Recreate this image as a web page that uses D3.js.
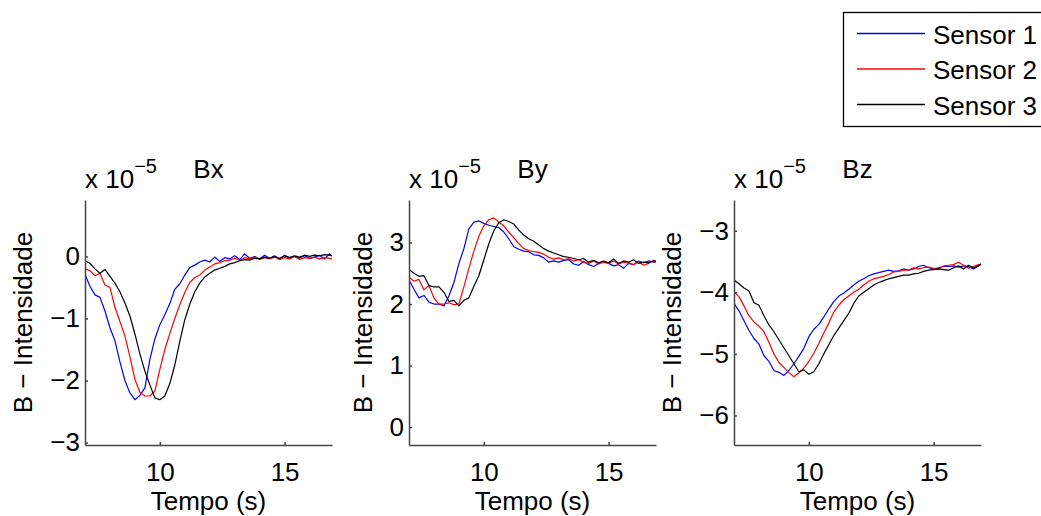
<!DOCTYPE html>
<html>
<head>
<meta charset="utf-8">
<script src="https://cdn.jsdelivr.net/npm/d3@7"></script>
<style>
  body { margin: 0; background: #fff; }
  svg { display: block; }
  text { font-family: "Liberation Sans", Arial, Helvetica, sans-serif; fill: #000; }
</style>
</head>
<body>
<div id="chart"></div>
<script>
// sample times (s)
const time = [7.0, 7.2, 7.4, 7.6, 7.8, 8.0, 8.2, 8.4, 8.6, 8.8,
  9.0, 9.2, 9.4, 9.6, 9.8, 10.0, 10.2, 10.4, 10.6, 10.8,
  11.0, 11.2, 11.4, 11.6, 11.8, 12.0, 12.2, 12.4, 12.6, 12.8,
  13.0, 13.2, 13.4, 13.6, 13.8, 14.0, 14.2, 14.4, 14.6, 14.8,
  15.0, 15.2, 15.4, 15.6, 15.8, 16.0, 16.2, 16.4, 16.6, 16.8, 17.0];

// Bx (x 1e-5)
const bxSensor1 = [-0.29, -0.48, -0.62, -0.66, -0.88, -1.15, -1.36, -1.70, -2.00, -2.20,
  -2.31, -2.24, -2.12, -1.66, -1.33, -1.10, -0.94, -0.76, -0.53, -0.44,
  -0.30, -0.18, -0.14, -0.09, -0.06, -0.09, -0.01, -0.08, -0.02, -0.04,
  0.01, -0.05, 0.04, -0.03, 0.00, -0.04, 0.02, -0.03, 0.01, -0.05,
  0.02, -0.02, 0.00, -0.03, 0.01, -0.03, -0.01, 0.02, -0.04, 0.04, -0.02];
const bxSensor2 = [-0.20, -0.23, -0.31, -0.27, -0.46, -0.50, -0.82, -1.05, -1.28, -1.62,
  -1.98, -2.19, -2.25, -2.25, -2.17, -1.82, -1.50, -1.24, -1.00, -0.78,
  -0.58, -0.42, -0.34, -0.30, -0.22, -0.17, -0.12, -0.10, -0.07, -0.06,
  -0.03, -0.06, -0.02, -0.04, -0.01, -0.05, -0.02, -0.04, -0.01, -0.05,
  -0.02, -0.04, 0.00, -0.05, -0.02, -0.03, -0.01, -0.04, -0.02, -0.03, -0.05];
const bxSensor3 = [-0.07, -0.11, -0.20, -0.27, -0.21, -0.32, -0.43, -0.57, -0.75, -0.96,
  -1.25, -1.57, -1.85, -2.07, -2.28, -2.31, -2.25, -2.05, -1.75, -1.37,
  -1.02, -0.77, -0.57, -0.43, -0.33, -0.27, -0.22, -0.19, -0.16, -0.12,
  -0.10, -0.07, -0.05, -0.06, -0.03, -0.04, -0.01, -0.03, 0.00, -0.03,
  0.01, -0.02, 0.01, -0.01, 0.02, 0.00, 0.02, 0.01, 0.03, 0.02, 0.00];

// By (x 1e-5)
const bySensor1 = [2.39, 2.24, 2.10, 2.14, 2.03, 2.00, 2.00, 1.97, 2.13, 2.35,
  2.66, 2.90, 3.22, 3.33, 3.35, 3.31, 3.28, 3.26, 3.24, 3.17,
  3.06, 2.93, 2.89, 2.86, 2.85, 2.80, 2.79, 2.75, 2.68, 2.70,
  2.68, 2.71, 2.72, 2.65, 2.63, 2.69, 2.64, 2.61, 2.66, 2.69,
  2.66, 2.62, 2.64, 2.58, 2.66, 2.64, 2.70, 2.67, 2.70, 2.68, 2.69];
const bySensor2 = [2.44, 2.37, 2.40, 2.23, 2.30, 2.10, 2.00, 2.00, 2.02, 1.99,
  2.00, 2.28, 2.58, 2.86, 3.10, 3.27, 3.37, 3.40, 3.33, 3.27,
  3.17, 3.08, 2.98, 2.90, 2.87, 2.85, 2.84, 2.81, 2.76, 2.73,
  2.75, 2.72, 2.74, 2.70, 2.72, 2.68, 2.66, 2.70, 2.65, 2.68,
  2.66, 2.70, 2.65, 2.68, 2.67, 2.64, 2.69, 2.63, 2.66, 2.71, 2.68];
const bySensor3 = [2.56, 2.50, 2.45, 2.46, 2.30, 2.28, 2.28, 2.19, 2.04, 2.06,
  1.97, 2.06, 2.10, 2.29, 2.46, 2.72, 2.98, 3.19, 3.32, 3.37,
  3.34, 3.30, 3.20, 3.12, 3.06, 3.02, 2.96, 2.90, 2.86, 2.83,
  2.80, 2.77, 2.76, 2.74, 2.72, 2.74, 2.68, 2.71, 2.67, 2.70,
  2.67, 2.73, 2.66, 2.70, 2.68, 2.72, 2.66, 2.68, 2.67, 2.70, 2.68];

// Bz (x 1e-5)
const bzSensor1 = [-4.18, -4.30, -4.46, -4.62, -4.75, -4.84, -5.03, -5.12, -5.27, -5.30,
  -5.35, -5.27, -5.16, -5.04, -4.91, -4.72, -4.60, -4.52, -4.40, -4.27,
  -4.15, -4.06, -4.01, -3.95, -3.88, -3.82, -3.78, -3.73, -3.70, -3.68,
  -3.66, -3.64, -3.66, -3.65, -3.62, -3.64, -3.62, -3.58, -3.56, -3.60,
  -3.62, -3.60, -3.58, -3.58, -3.57, -3.59, -3.57, -3.58, -3.62, -3.57, -3.52];
const bzSensor2 = [-3.99, -4.07, -4.22, -4.38, -4.48, -4.55, -4.64, -4.81, -5.00, -5.14,
  -5.22, -5.30, -5.37, -5.31, -5.23, -5.12, -4.99, -4.83, -4.66, -4.50,
  -4.32, -4.21, -4.12, -4.06, -4.00, -3.95, -3.88, -3.82, -3.78, -3.76,
  -3.74, -3.71, -3.67, -3.66, -3.64, -3.64, -3.60, -3.62, -3.60, -3.59,
  -3.61, -3.63, -3.57, -3.56, -3.55, -3.51, -3.56, -3.61, -3.58, -3.55, -3.54];
const bzSensor3 = [-3.80, -3.86, -3.93, -3.98, -4.17, -4.21, -4.38, -4.53, -4.64, -4.77,
  -4.90, -5.03, -5.16, -5.29, -5.26, -5.33, -5.29, -5.16, -5.00, -4.85,
  -4.70, -4.58, -4.46, -4.34, -4.18, -4.06, -4.00, -3.94, -3.88, -3.84,
  -3.81, -3.78, -3.76, -3.74, -3.72, -3.72, -3.70, -3.69, -3.66, -3.64,
  -3.63, -3.62, -3.63, -3.64, -3.60, -3.57, -3.62, -3.56, -3.60, -3.57, -3.51];

const titles = ['Bx', 'By', 'Bz'];
const sensorNames = ['Sensor 1', 'Sensor 2', 'Sensor 3'];
const xLimits = [7, 16.9];
const xTickValues = [10, 15];
const bxLimits = [-3.04, 0.91], bxTicks = [-3, -2, -1, 0];
const byLimits = [-0.29, 3.69], byTicks = [0, 1, 2, 3];
const bzLimits = [-6.48, -2.5], bzTicks = [-6, -5, -4, -3];

const colors = ['#0000ff', '#ff0000', '#000000'];

const panels = [
  {title: titles[0], series: [bxSensor1, bxSensor2, bxSensor3], ylim: bxLimits, yticks: bxTicks},
  {title: titles[1], series: [bySensor1, bySensor2, bySensor3], ylim: byLimits, yticks: byTicks},
  {title: titles[2], series: [bzSensor1, bzSensor2, bzSensor3], ylim: bzLimits, yticks: bzTicks}
];

var width = 1041, height = 516;
var panelLeft = [85, 409, 734];
var pWidth = 247, pTop = 200, pHeight = 245;
var fontSize = 26;

var svg = d3.select('#chart').append('svg')
  .attr('width', width)
  .attr('height', height);

panels.forEach(function(p, k) {
  var left = panelLeft[k];
  var x = d3.scaleLinear().domain(xLimits).range([left, left + pWidth]);
  var y = d3.scaleLinear().domain(p.ylim).range([pTop + pHeight, pTop]);

  var clipId = 'clip' + k;
  svg.append('clipPath').attr('id', clipId)
    .append('rect')
    .attr('x', left).attr('y', pTop)
    .attr('width', pWidth).attr('height', pHeight);

  var line = d3.line()
    .x(function(d) { return x(d[0]); })
    .y(function(d) { return y(d[1]); });

  var g = svg.append('g').attr('clip-path', 'url(#' + clipId + ')');
  p.series.forEach(function(vals, i) {
    g.append('path')
      .datum(time.map(function(t, j) { return [t, vals[j]]; }))
      .attr('fill', 'none')
      .attr('stroke', colors[i])
      .attr('stroke-width', 1.2)
      .attr('stroke-linejoin', 'round')
      .attr('d', line);
  });

  var xAxis = d3.axisBottom(x)
    .tickValues(xTickValues)
    .tickFormat(d3.format('d'))
    .tickSizeInner(-3)
    .tickSizeOuter(0)
    .tickPadding(17.5);
  var yAxis = d3.axisLeft(y)
    .tickValues(p.yticks)
    .tickFormat(d3.format('d'))
    .tickSizeInner(-3)
    .tickSizeOuter(0)
    .tickPadding(5);

  var gx = svg.append('g')
    .attr('transform', 'translate(0,' + (pTop + pHeight) + ')')
    .call(xAxis);
  var gy = svg.append('g')
    .attr('transform', 'translate(' + left + ',0)')
    .call(yAxis);

  [gx, gy].forEach(function(a) {
    a.selectAll('path, line').attr('stroke', '#444').attr('stroke-width', 1.5);
    a.selectAll('text')
      .attr('font-size', fontSize)
      .attr('font-family', '"Liberation Sans", Arial, Helvetica, sans-serif')
      .attr('fill', '#000');
  });

  // widest y tick label, to place the y label
  var maxW = 0;
  gy.selectAll('text').each(function() {
    maxW = Math.max(maxW, this.getBBox().width);
  });
  var ylabX = left - 5 - maxW - 18;

  svg.append('text')
    .attr('transform', 'translate(' + ylabX + ',' + (pTop + pHeight / 2) + ') rotate(-90)')
    .attr('text-anchor', 'middle')
    .attr('font-size', fontSize)
    .text('B \u2212 Intensidade');

  svg.append('text')
    .attr('x', left + pWidth / 2)
    .attr('y', 510)
    .attr('text-anchor', 'middle')
    .attr('font-size', fontSize)
    .text('Tempo (s)');

  svg.append('text')
    .attr('x', left + pWidth / 2)
    .attr('y', 178)
    .attr('text-anchor', 'middle')
    .attr('font-size', fontSize)
    .text(p.title);

  var exp = svg.append('text')
    .attr('x', left)
    .attr('y', 188)
    .attr('font-size', fontSize);
  exp.append('tspan').text('x 10');
  exp.append('tspan')
    .attr('dy', -15)
    .attr('font-size', 20)
    .text('\u22125');
});

// legend
var legend = svg.append('g');
legend.append('rect')
  .attr('x', 843.5).attr('y', 12.5)
  .attr('width', 210).attr('height', 114)
  .attr('fill', '#fff')
  .attr('stroke', '#000')
  .attr('stroke-width', 1.3);

sensorNames.forEach(function(name, i) {
  var rowY = 33.5 + i * 35.5;
  legend.append('line')
    .attr('x1', 857).attr('x2', 925)
    .attr('y1', rowY).attr('y2', rowY)
    .style('stroke', colors[i])
    .attr('stroke-width', 1.5);
  legend.append('text')
    .attr('x', 933)
    .attr('y', rowY + 10)
    .attr('font-size', fontSize)
    .text(name);
});
</script>
</body>
</html>
